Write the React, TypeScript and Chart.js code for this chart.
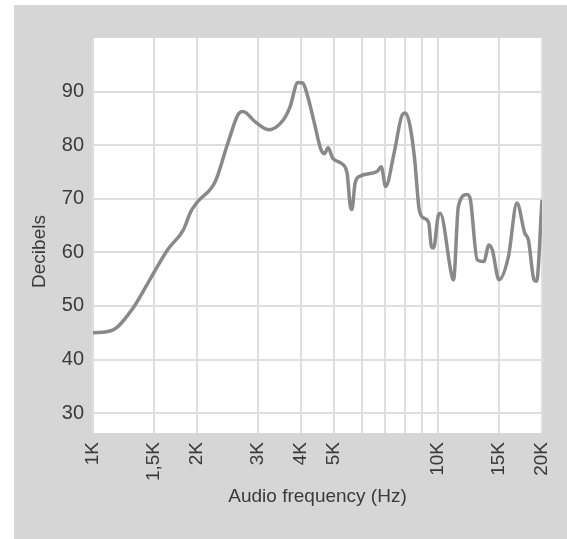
import React, { useEffect, useRef } from "react";
import { Chart, registerables } from "chart.js";

Chart.register(...registerables);

const FREQ = [
  1000, 1140, 1299, 1423, 1500, 1645, 1827, 1920, 2000, 2259, 2462, 2632, 2721, 2947,
  3229, 3568, 3725, 3923, 4053, 4190, 4380, 4575, 4680, 4805, 4944, 5217, 5447, 5565,
  5626, 5747, 5935, 6655, 6842, 7047, 7454, 7879, 8049, 8296, 8553, 8816, 9093, 9393,
  9558, 9702, 10020, 10136, 10967, 11085, 11449, 12131, 12405, 12983, 13574, 14036,
  14354, 15010, 15984, 16918, 17826, 18270, 18961, 19292, 20000,
];
const DB = [
  45.0, 45.5, 49.4, 53.6, 56.2, 60.5, 64.2, 67.6, 69.3, 73.2, 80.5, 85.7, 86.3, 84.4,
  82.9, 84.8, 87.2, 91.7, 91.6, 89.1, 84.1, 79.2, 78.4, 79.5, 77.6, 76.7, 74.8, 68.6,
  68.0, 72.9, 74.2, 75.1, 76.0, 72.3, 78.5, 85.7, 86.0, 83.5, 77.3, 68.0, 66.4, 65.5,
  61.1, 60.8, 67.0, 67.3, 55.5, 54.9, 68.6, 70.8, 69.8, 58.6, 58.3, 61.4,
  60.5, 54.9, 59.2, 69.2, 63.6, 62.3, 54.9, 54.6, 69.8,
];
const X_TICKS = [1000, 1500, 2000, 3000, 4000, 5000, 6000, 7000, 8000, 9000, 10000, 15000, 20000];
const X_LABELS = ["1K", "1,5K", "2K", "3K", "4K", "5K", "", "", "", "", "10K", "15K", "20K"];
const Y_TICKS = [30, 40, 50, 60, 70, 80, 90];
const Y_TITLE = "Decibels";
const X_TITLE = "Audio frequency (Hz)";

const FONT = "'Liberation Sans', Arial, sans-serif";
const TEXT = "#3a3a3a";
const GRID = "#dedede";

export default function App() {
  const ref = useRef<HTMLCanvasElement | null>(null);

  useEffect(() => {
    if (!ref.current) return;
    const plotBg = {
      id: "plotBg",
      beforeDraw(chart: any) {
        const { ctx, chartArea: a } = chart;
        ctx.save();
        ctx.fillStyle = "#ffffff";
        ctx.fillRect(a.left, a.top, a.right - a.left, a.bottom - a.top);
        ctx.restore();
      },
    };
    const yTitle = {
      id: "yTitle",
      afterDraw(chart: any) {
        const { ctx, chartArea: a } = chart;
        ctx.save();
        ctx.translate(26, (a.top + a.bottom) / 2 + 16);
        ctx.rotate(-Math.PI / 2);
        ctx.font = `19px ${FONT}`;
        ctx.fillStyle = TEXT;
        ctx.textAlign = "center";
        ctx.textBaseline = "middle";
        ctx.fillText(Y_TITLE, 0, 0);
        ctx.restore();
      },
    };
    const chart = new Chart(ref.current, {
      type: "line",
      data: {
        datasets: [
          {
            data: FREQ.map((f, i) => ({ x: f, y: DB[i] })),
            borderColor: "#898989",
            borderWidth: 3.5,
            pointRadius: 0,
            fill: false,
            cubicInterpolationMode: "monotone",
          },
        ],
      },
      plugins: [plotBg, yTitle],
      options: {
        animation: false,
        responsive: false,
        maintainAspectRatio: false,
        layout: { padding: { left: 0, top: 33, right: 25, bottom: 27 } },
        plugins: { legend: { display: false }, tooltip: { enabled: false } },
        scales: {
          x: {
            type: "logarithmic",
            min: 1000,
            max: 20000,
            afterBuildTicks: (s: any) => {
              s.ticks = X_TICKS.map((v) => ({ value: v }));
            },
            afterFit: (s: any) => {
              s.height = 79;
              s.paddingLeft = 0;
              s.paddingRight = 0;
            },
            grid: { color: GRID, lineWidth: 2, drawTicks: false },
            border: { display: false },
            ticks: {
              autoSkip: false,
              minRotation: 90,
              maxRotation: 90,
              padding: 9,
              color: TEXT,
              font: { family: FONT, size: 19 },
              callback: (v: any) => {
                const i = X_TICKS.indexOf(Number(v));
                return i >= 0 ? X_LABELS[i] : "";
              },
            },
            title: {
              display: true,
              text: X_TITLE,
              color: TEXT,
              font: { family: FONT, size: 19 },
              padding: { top: 4, bottom: 4 },
            },
          },
          y: {
            min: 26.3,
            max: 100,
            afterBuildTicks: (s: any) => {
              s.ticks = Y_TICKS.map((v) => ({ value: v }));
            },
            afterFit: (s: any) => {
              s.width = 79;
              s.paddingTop = 0;
              s.paddingBottom = 0;
            },
            grid: { color: GRID, lineWidth: 2, drawTicks: false },
            border: { display: false },
            ticks: {
              padding: 9,
              color: TEXT,
              font: { family: FONT, size: 20 },
            },
          },
        },
      },
    } as any);
    return () => chart.destroy();
  }, []);

  return (
    <div
      style={{
        position: "absolute",
        left: 14,
        top: 5,
        width: 553,
        height: 534,
        background: "#d6d6d6",
      }}
    >
      <canvas ref={ref} width={553} height={534} style={{ display: "block" }} />
    </div>
  );
}
